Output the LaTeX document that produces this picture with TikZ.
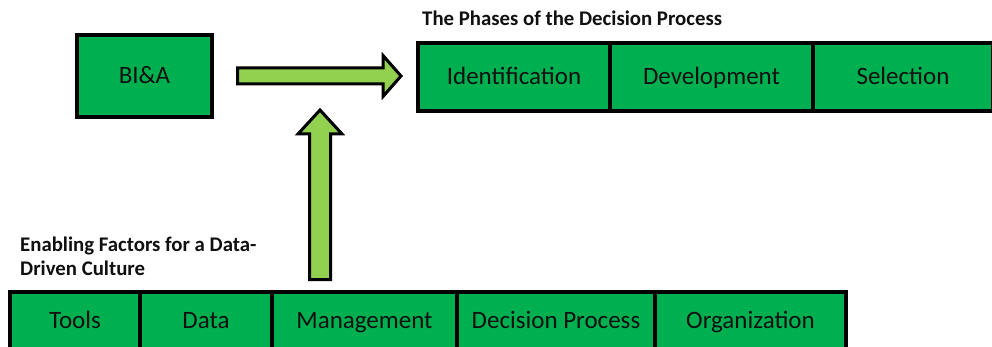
\documentclass[tikz,border=0pt]{standalone}
\usepackage{fontspec}
\setmainfont{Carlito}
\definecolor{boxgreen}{HTML}{00B050}
\definecolor{arrowgreen}{HTML}{92D050}
\definecolor{inktext}{HTML}{101010}
\begin{document}
\begin{tikzpicture}[x=1pt,y=-1pt,
  cell/.style={draw=black, line width=4pt, fill=boxgreen, rectangle,
    inner sep=0pt, outer sep=0pt, text=inktext,
    text height=18pt, text depth=2pt,
    font=\fontsize{25}{30}\selectfont},
  heading/.style={font=\bfseries\fontsize{20.8}{24}\selectfont, text=inktext,
    inner sep=0pt, anchor=north west, align=left},
  blockarrow/.style={draw=black, line width=3pt, fill=arrowgreen, line join=miter}
]
\useasboundingbox (0,0) rectangle (992,347);

% business intelligence & analytics
\node[cell, minimum width=135pt, minimum height=82pt] (bia) at (144.5,76) {BI\&A};

% the phases of the decision process
\node[heading] (phasetitle) at (422,11) {The Phases of the Decision Process};
\node[cell, minimum width=192pt, minimum height=68pt] (ident) at (514,77) {Identification};
\node[cell, minimum width=203pt, minimum height=68pt] (devel) at (711.5,77) {Development};
\node[cell, minimum width=180pt, minimum height=68pt] (select) at (903,77) {Selection};

% enabling factors
\node[heading] (factortitle) at (20,237) {Enabling Factors for a Data-\\Driven Culture};
\node[cell, minimum width=130pt, minimum height=57pt] (tools) at (75,320.5) {Tools};
\node[cell, minimum width=132pt, minimum height=57pt] (data) at (206,320.5) {Data};
\node[cell, minimum width=185pt, minimum height=57pt] (mgmt) at (364.5,320.5) {Management};
\node[cell, minimum width=198pt, minimum height=57pt] (decproc) at (556,320.5) {Decision Process};
\node[cell, minimum width=191pt, minimum height=57pt] (org) at (750.5,320.5) {Organization};

% block arrows: BI&A feeds the phases, factors support from below
\draw[blockarrow] (237.5,68) -- (383,68) -- (383,55.5) -- (401,76)
  -- (383,96.5) -- (383,84) -- (237.5,84) -- cycle;
\draw[blockarrow] (309.5,279.5) -- (309.5,134) -- (298,134) -- (320,110)
  -- (342,134) -- (330.5,134) -- (330.5,279.5) -- cycle;
\end{tikzpicture}
\end{document}
